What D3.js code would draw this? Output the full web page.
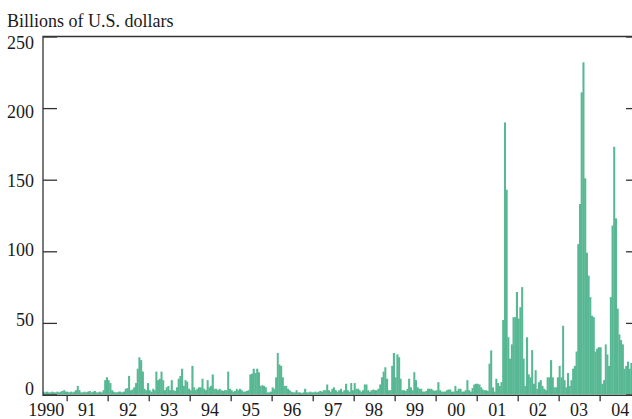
<!DOCTYPE html>
<meta charset="utf-8">
<style>
  body { margin: 0; background: #fff; }
  text { font-family: "Liberation Serif", "Times New Roman", serif; fill: #1a1a1a; }
  .frame { fill: none; stroke: #333; stroke-width: 1.3; }
  .tick line { stroke: #333; stroke-width: 1.3; }
</style>
<body>
<script src="https://d3js.org/d3.v7.min.js"></script>
<script>

// semi-monthly values, billions of U.S. dollars
var v1990 = [2,1.5,2,1.5,1.5,2,1.5,1.5,2,1.5,2,2.5,3,2];   // from June
var v1991 = [2,1.5,2,1.5,2,3,6,3,1.5,1.5,2,1.5,2,2.5,1.5,2,2.5,1.5,1.5,2,1.5,3,10,12];
var v1992 = [10,8,3,2,1.5,1.5,2,2,1.5,2,4,4.5,13,3,3.5,5,8,18,26,24,16,4,3,8];
var v1993 = [3,2,4,3,16,10,11,16,10,3,5,6,3,10,3,2.5,5,11,13,18,6,10,9,4];
var v1994 = [3,20,5,3,4,5,5,11,4,3,10,5,6,14,4,4,3,4,3,2.5,3,3,16,4];
var v1995 = [3,2,2.5,4,3,4,3,2,2,2.5,3,14,14.5,18,15,18,15.5,6,6.5,6,5,1.5,1.5,2];
var v1996 = [5,4,12,29,21,20,12,6,6,4,3,2,1.5,1.5,3,1.5,1.5,1,1.5,4,1.5,1.5,2,1.5];
var v1997 = [1.5,2,1.5,2,2.5,2,3,3,7,3,2,4,5,3,2,3,4,2,3,7.5,3,2,8,3];
var v1998 = [8,4,4,3,2,3,7,7,3,2,3,3.5,3,3,4,7,12,16,19,11,3,3,20,29];
var v1999 = [12,28,26,11,3,3,2.5,4,11,5,3,15.6,10,5,4,4,2,2,2.5,4,4,4,3,2.5];
var v2000 = [3,8.6,3,2,2,2,3,3.5,3.5,2,2,6,2.5,4,4,2,2,3,10,3,2,4.5,7,7.5];
var v2001 = [7.5,7,5,3.5,3,3,2.5,21.5,30.8,5,2,11,8,6,8.6,52,190,143,40,25,35,54,54,71.6];
var v2002 = [53,61,75,25,6,40,14,12,31,7.5,17,4,8.6,10,6,4,3,12,12,24,12,5,5,12];
var v2003 = [20,12,48,10,5,15,6,10,18,20,30,105,133,211,232,151,99,83,68,55,54,30,32,33];
var v2004 = [33,7.5,10,35,28,20,68,118,173,123,60,42,38,35,18,20,23,18,22];

var yearLabels = ['1990','91','92','93','94','95','96','97','98','99','00','01','02','03','04'];
var yTicks = [0, 50, 100, 150, 200, 250];

var values = [].concat(v1990, v1991, v1992, v1993, v1994, v1995, v1996, v1997,
                       v1998, v1999, v2000, v2001, v2002, v2003, v2004);

// half-month periods starting June 1990
function period(k) {
  return new Date(1990, 5 + Math.floor(k / 2), k % 2 ? 16 : 1);
}
var data = values.map(function (v, k) {
  return { date: period(k), end: period(k + 1), value: v };
});

var width = 632, height = 419;
var plotLeft = 43, plotRight = 640, plotTop = 36.5, plotBottom = 394.5;

var x = d3.scaleTime()
  .domain([new Date(1990, 0, 1), new Date(2005, 0, 1)])
  .range([25.7, 640.7]);
var y = d3.scaleLinear().domain([0, 250]).range([plotBottom, plotTop]);
// labels sit a little inside the frame at the ends
var yLabel = d3.scaleLinear().domain([0, 250]).range([388.5, 43]);

var svg = d3.select('body').append('svg')
  .attr('width', width).attr('height', height);

svg.append('clipPath').attr('id', 'plot')
  .append('rect').attr('x', plotLeft).attr('y', 0)
  .attr('width', plotRight - plotLeft).attr('height', plotBottom + 1);

svg.append('g').attr('clip-path', 'url(#plot)')
  .selectAll('rect').data(data).enter().append('rect')
  .attr('x', function (d) { return x(d.date); })
  .attr('width', function (d) { return x(d.end) - x(d.date) + 0.35; })
  .attr('y', function (d) { return y(d.value); })
  .attr('height', function (d) { return plotBottom - y(d.value); })
  .attr('fill', '#58b894');

// left axis: inward ticks
svg.append('g').attr('transform', 'translate(' + plotLeft + ',0)')
  .call(d3.axisLeft(y).tickValues(yTicks).tickSize(-14).tickSizeOuter(0).tickFormat(''))
  .call(function (g) { g.select('.domain').remove(); });

// right axis: inward ticks
svg.append('g').attr('transform', 'translate(' + plotRight + ',0)')
  .call(d3.axisRight(y).tickValues(yTicks).tickSize(-14).tickSizeOuter(0).tickFormat(''))
  .call(function (g) { g.select('.domain').remove(); });

// bottom axis: year ticks pointing down
var yearStarts = d3.range(1991, 2005).map(function (yr) { return new Date(yr, 0, 1); });
svg.append('g').attr('transform', 'translate(0,' + (plotBottom + 0.8) + ')')
  .call(d3.axisBottom(x).tickValues(yearStarts).tickSize(6).tickFormat(''))
  .call(function (g) { g.select('.domain').remove(); });

// frame
svg.append('path').attr('class', 'frame')
  .attr('d', 'M' + plotLeft + ',' + (plotBottom + 0.8) + 'V' + plotTop + 'H' + plotRight + 'V' + (plotBottom + 0.8) + 'Z');

// y labels
svg.append('g').selectAll('text').data(yTicks).enter().append('text')
  .attr('x', 34).attr('y', function (d) { return yLabel(d); })
  .attr('dy', '0.34em')
  .attr('text-anchor', 'end')
  .style('font-size', '18px')
  .text(function (d) { return d; });

// year labels, centred in each year
svg.append('g').selectAll('text').data(yearLabels).enter().append('text')
  .attr('x', function (d, i) { return x(new Date(1990 + i, 6, 2)); })
  .attr('y', 416)
  .attr('text-anchor', 'middle')
  .style('font-size', '18px')
  .text(function (d) { return d; });

svg.append('text')
  .attr('x', 7).attr('y', 26.7)
  .style('font-size', '18px')
  .text('Billions of U.S. dollars');

</script>
</body>
